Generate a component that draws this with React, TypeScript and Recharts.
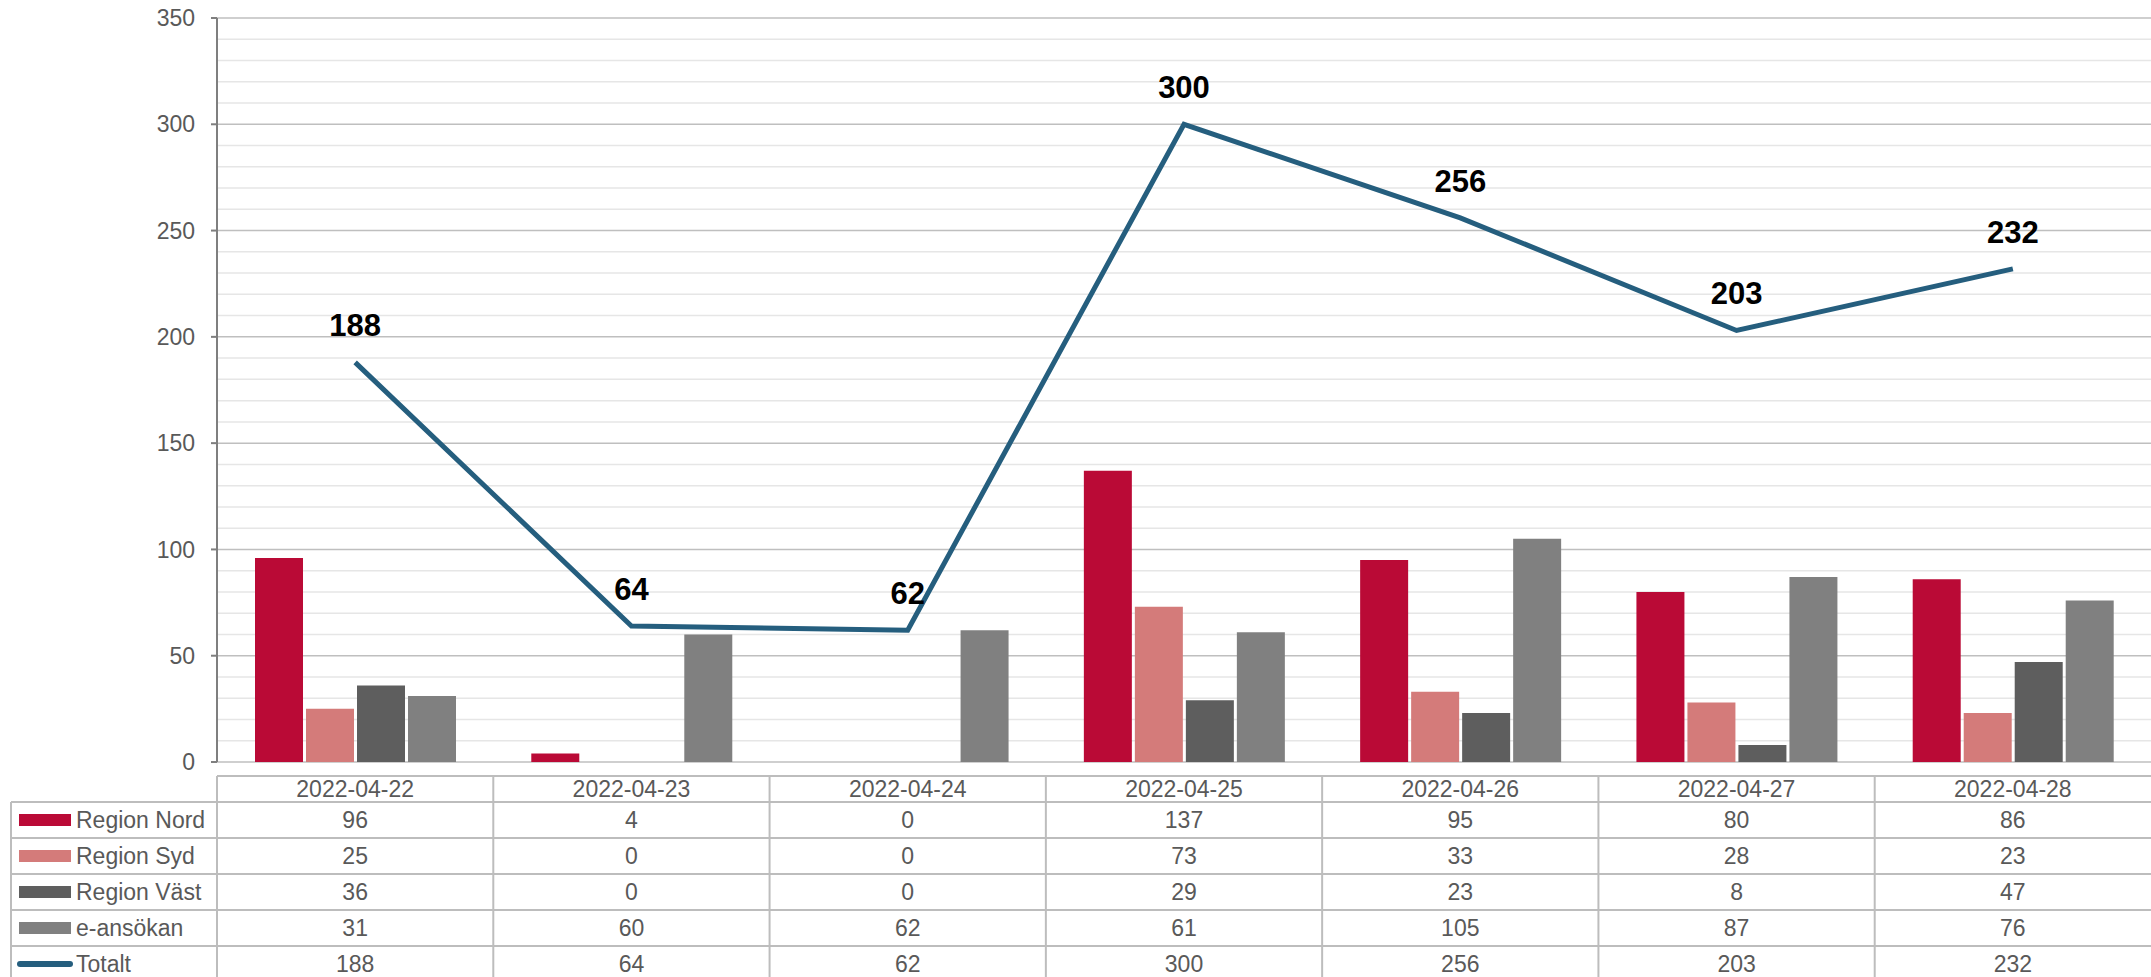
import React from 'react';
import { Bar, CartesianGrid, ComposedChart, LabelList, Line, XAxis, YAxis } from 'recharts';

const dates = ['2022-04-22', '2022-04-23', '2022-04-24', '2022-04-25', '2022-04-26', '2022-04-27', '2022-04-28'];
const regionNord = [96, 4, 0, 137, 95, 80, 86];
const regionSyd = [25, 0, 0, 73, 33, 28, 23];
const regionVast = [36, 0, 0, 29, 23, 8, 47];
const eAnsokan = [31, 60, 62, 61, 105, 87, 76];
const totalt = [188, 64, 62, 300, 256, 203, 232];
const yTicks = [0, 50, 100, 150, 200, 250, 300, 350];
const minorTicks = [10, 20, 30, 40, 60, 70, 80, 90, 110, 120, 130, 140, 160, 170, 180, 190, 210, 220, 230, 240, 260, 270, 280, 290, 310, 320, 330, 340];

const series = [
  { key: 'Region Nord', values: regionNord, color: '#BA0A36', type: 'bar' },
  { key: 'Region Syd', values: regionSyd, color: '#D47B7A', type: 'bar' },
  { key: 'Region Väst', values: regionVast, color: '#5E5E5E', type: 'bar' },
  { key: 'e-ansökan', values: eAnsokan, color: '#808080', type: 'bar' },
  { key: 'Totalt', values: totalt, color: '#255E7E', type: 'line' },
];

const data = dates.map((d, i) => {
  const row: Record<string, string | number> = { date: d };
  series.forEach((s) => (row[s.key] = s.values[i]));
  return row;
});

const W = 2151;
const CHART_H = 780;
const PLOT_LEFT = 217;
const PLOT_RIGHT = 2151;
const catW = (PLOT_RIGHT - PLOT_LEFT) / dates.length;
const textColor = '#595959';
const borderColor = '#BDBDBD';
const font = '"Liberation Sans", Arial, sans-serif';

const TotalLabel = (props: any) => {
  const { x, y, value } = props;
  return (
    <text x={x} y={y - 26} textAnchor="middle" fontSize={31} fontWeight="bold" fill="#000" fontFamily={font}>
      {value}
    </text>
  );
};

const DataTable = () => {
  const headerTop = 776;
  const rowTop = 802;
  const rowH = 36;
  const bottom = rowTop + rowH * series.length;
  return (
    <svg width={W} height={977} style={{ position: 'absolute', left: 0, top: 0 }} fontFamily={font}>
      {/* header row */}
      <line x1={PLOT_LEFT} x2={PLOT_RIGHT} y1={headerTop} y2={headerTop} stroke={borderColor} strokeWidth={2} />
      {[0, 1, 2, 3, 4, 5].map((r) => (
        <line key={r} x1={11} x2={PLOT_RIGHT} y1={rowTop + r * rowH} y2={rowTop + r * rowH} stroke={borderColor} strokeWidth={2} />
      ))}
      <line x1={11} x2={11} y1={rowTop} y2={bottom} stroke={borderColor} strokeWidth={2} />
      {dates.map((_, i) => (
        <line key={i} x1={PLOT_LEFT + i * catW} x2={PLOT_LEFT + i * catW} y1={headerTop} y2={bottom} stroke={borderColor} strokeWidth={2} />
      ))}
      {dates.map((d, i) => (
        <text key={d} x={PLOT_LEFT + (i + 0.5) * catW} y={headerTop + 13} textAnchor="middle" dominantBaseline="central" fontSize={23} fill={textColor}>
          {d}
        </text>
      ))}
      {series.map((s, r) => {
        const cy = rowTop + r * rowH + rowH / 2;
        return (
          <g key={s.key}>
            {s.type === 'bar' ? (
              <rect x={19} y={cy - 6} width={52} height={12} fill={s.color} />
            ) : (
              <line x1={20} x2={70} y1={cy} y2={cy} stroke={s.color} strokeWidth={6} strokeLinecap="round" />
            )}
            <text x={76} y={cy} dominantBaseline="central" fontSize={23} fill={textColor}>
              {s.key}
            </text>
            {s.values.map((v, i) => (
              <text key={i} x={PLOT_LEFT + (i + 0.5) * catW} y={cy} textAnchor="middle" dominantBaseline="central" fontSize={23} fill={textColor}>
                {v}
              </text>
            ))}
          </g>
        );
      })}
    </svg>
  );
};

export default function App() {
  return (
    <div style={{ position: 'absolute', left: 0, top: 0, width: W, height: 977, overflow: 'hidden', background: '#fff' }}>
      <ComposedChart
        width={W}
        height={CHART_H}
        data={data}
        margin={{ top: 18, right: 0, bottom: 18, left: 0 }}
        barGap={3}
      >
        <CartesianGrid vertical={false} horizontalValues={minorTicks} stroke="#E6E6E6" strokeWidth={1.5} />
        <CartesianGrid vertical={false} horizontalValues={yTicks} stroke="#BFBFBF" strokeWidth={1.5} />
        <XAxis dataKey="date" hide />
        <YAxis
          width={PLOT_LEFT}
          domain={[0, 350]}
          ticks={yTicks}
          interval={0}
          tickSize={6}
          tickMargin={16}
          axisLine={{ stroke: '#7F7F7F', strokeWidth: 2 }}
          tickLine={{ stroke: '#7F7F7F', strokeWidth: 2 }}
          tick={{ fontSize: 23, fill: textColor, fontFamily: font }}
        />
        {series
          .filter((s) => s.type === 'bar')
          .map((s) => (
            <Bar key={s.key} dataKey={s.key} fill={s.color} barSize={48} isAnimationActive={false} />
          ))}
        <Line type="linear" dataKey="Totalt" stroke="#255E7E" strokeWidth={5} dot={false} isAnimationActive={false}>
          <LabelList dataKey="Totalt" content={<TotalLabel />} />
        </Line>
      </ComposedChart>
      <DataTable />
    </div>
  );
}
